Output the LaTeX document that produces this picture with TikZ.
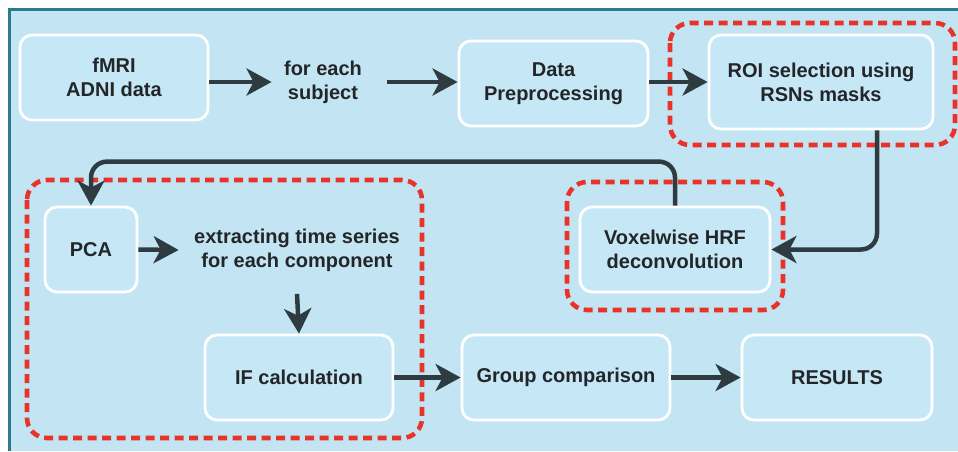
\documentclass[tikz,border=0pt]{standalone}
\usepackage{fontspec}
\setmainfont{Liberation Sans}
\usetikzlibrary{arrows.meta}
\definecolor{bg}{HTML}{C3E5F3}
\definecolor{boxfill}{HTML}{C6E7F5}
\definecolor{frame}{HTML}{2E7A88}
\definecolor{grpred}{HTML}{E8332A}
\definecolor{arrowc}{HTML}{2E3B40}
\definecolor{txt}{HTML}{232628}
\begin{document}
\begin{tikzpicture}[x=1pt,y=-1pt,
  lbl/.style={font=\bfseries\fontsize{20}{24}\selectfont, align=center, text=txt},
  stepbox/.style={lbl, draw=white, line width=2.8pt, fill=boxfill, rounded corners=12pt, inner sep=0pt},
  grpbox/.style={draw=grpred, line width=4.6pt, dash pattern=on 9pt off 5.5pt, rounded corners=20pt},
  arr/.style={draw=arrowc, line width=4.5pt, -{Stealth[length=25pt,width=27pt,inset=7pt]}}]
\useasboundingbox (0,0) rectangle (958,451);
\fill[white] (0,0) rectangle (958,451);
\fill[bg] (9,9) rectangle (958,451);
\draw[frame, line width=3pt] (958,9) -- (9,9) -- (9,451);

% boxes
\node[stepbox, minimum width=188pt, minimum height=85pt] (fmri) at (114,77.5) {fMRI\\ADNI data};
\node[lbl] (each) at (323,82) {for each\\subject};
\node[stepbox, minimum width=189pt, minimum height=85pt] (prep) at (553.5,83.5) {Data\\Preprocessing};
\node[stepbox, minimum width=224pt, minimum height=94pt] (roi) at (821,82) {ROI selection using\\RSNs masks};
\node[stepbox, minimum width=190pt, minimum height=85pt] (vox) at (675,249.5) {Voxelwise HRF\\deconvolution};
\node[stepbox, minimum width=92pt, minimum height=85pt] (pca) at (91,249.5) {PCA};
\node[lbl] (ext) at (297,250) {extracting time series\\for each component};
\node[stepbox, minimum width=188pt, minimum height=85pt] (ifc) at (299,377.5) {IF calculation};
\node[stepbox, minimum width=208pt, minimum height=85pt] (grp) at (566,377.5) {Group comparison};
\node[stepbox, minimum width=190pt, minimum height=85pt] (res) at (837,377.5) {RESULTS};

% red dashed groups
\draw[grpbox] (670,23) rectangle (955,145);
\draw[grpbox] (567,182) rectangle (783,310);
\draw[grpbox] (27,180) rectangle (422,438);

% connectors
\draw[arr] (each.west -| fmri.east) -- ([xshift=-9pt]each.west);
\draw[arr] ([xshift=22pt]each.east) -- (prep.west |- each.east);
\draw[arr] (roi.west -| prep.east) -- (roi.west);
\draw[arr, rounded corners=16pt] ([xshift=56pt]roi.south) |- (vox.east);
\draw[arr, rounded corners=16pt] (vox.north) -- ++(0,-44) -| (pca.north);
\draw[arr] (pca.east) -- ([xshift=-12pt]ext.west);
\draw[arr] ([yshift=-19pt]ext.south) -- (ifc.north);
\draw[arr] (ifc.east) -- (grp.west);
\draw[arr] (grp.east) -- (res.west);
\end{tikzpicture}
\end{document}
